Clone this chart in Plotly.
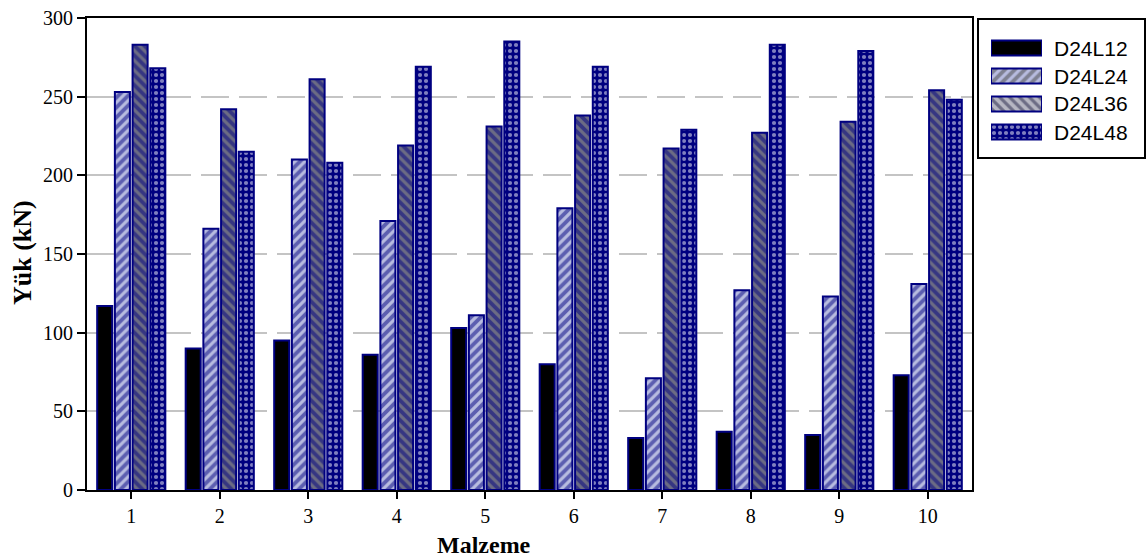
import plotly.graph_objects as go

categories = ["1", "2", "3", "4", "5", "6", "7", "8", "9", "10"]
series_names = ["D24L12", "D24L24", "D24L36", "D24L48"]
d24l12 = [117, 90, 95, 86, 103, 80, 33, 37, 35, 73]
d24l24 = [253, 166, 210, 171, 111, 179, 71, 127, 123, 131]
d24l36 = [283, 242, 261, 219, 231, 238, 217, 227, 234, 254]
d24l48 = [268, 215, 208, 269, 285, 269, 229, 283, 279, 248]
y_ticks = [0, 50, 100, 150, 200, 250, 300]

navy = "#000080"
fills = ["#000000", "#b8bce0", "#6c6c84", "#000080"]
shapes = ["", "/", "\\", "."]
fgcols = [navy, navy, navy, "#ffffff"]
psizes = [6, 7, 7, 6]
psolid = [0.3, 0.55, 0.55, 0.38]

W, H = 1148, 558
ML, MR, MT, MB = 87, 3, 18, 68
PW = W - ML - MR
PH = H - MT - MB


def px(x):
    return (x - ML) / PW


def py(y):
    return (H - MB - y) / PH


fig = go.Figure()
for i, (name, vals) in enumerate(zip(series_names, [d24l12, d24l24, d24l36, d24l48])):
    fig.add_trace(go.Bar(
        x=categories, y=vals, name=name, showlegend=False,
        marker=dict(color=fills[i],
                    pattern=dict(shape=shapes[i], fgcolor=fgcols[i], bgcolor=fills[i],
                                 size=psizes[i], solidity=psolid[i], fillmode="overlay"),
                    line=dict(color=navy, width=2)),
    ))

# legend swatches drawn as bars on a small helper axis
fig.add_trace(go.Bar(
    x=[1, 1, 1, 1], y=[0, 1, 2, 3], orientation="h", width=0.54,
    xaxis="x2", yaxis="y2", showlegend=False, hoverinfo="skip",
    marker=dict(color=fills,
                pattern=dict(shape=shapes, fgcolor=fgcols, bgcolor=fills,
                             size=psizes, solidity=psolid, fillmode="overlay"),
                line=dict(color=navy, width=2)),
))

row_y = [48, 76, 104, 132]
annotations = []
for name, ry in zip(series_names, row_y):
    annotations.append(dict(text=name, x=px(1052), y=py(ry), xref="paper", yref="paper",
                            xanchor="left", yanchor="middle", showarrow=False,
                            font=dict(family="Liberation Sans", size=21, color="black")))
annotations.append(dict(text="<b>Malzeme</b>", x=px(484), y=py(545), xref="paper", yref="paper",
                        xanchor="center", yanchor="middle", showarrow=False,
                        font=dict(family="Liberation Serif", size=24, color="black")))
annotations.append(dict(text="<b>Yük (kN)</b>", x=px(22), y=py(253), xref="paper", yref="paper",
                        xanchor="center", yanchor="middle", showarrow=False, textangle=-90,
                        font=dict(family="Liberation Serif", size=26, color="black")))

fig.update_layout(
    width=W, height=H,
    margin=dict(l=ML, r=MR, t=MT, b=MB),
    paper_bgcolor="white", plot_bgcolor="white",
    barmode="group", bargap=0.2, bargroupgap=0.15,
    font=dict(family="Liberation Serif", size=20, color="black"),
    showlegend=False,
    annotations=annotations,
    shapes=[dict(type="rect", xref="paper", yref="paper",
                 x0=px(978), x1=px(1145), y0=py(19), y1=py(158),
                 line=dict(color="black", width=2), fillcolor="rgba(0,0,0,0)")],
    xaxis=dict(
        domain=[0, px(972)], automargin=False,
        showline=True, linecolor="black", linewidth=2, mirror=True,
        ticks="outside", ticklen=7, tickwidth=2, tickcolor="black",
        showgrid=False, range=[-0.5, 9.5],
    ),
    yaxis=dict(
        automargin=False,
        range=[0, 300], tickvals=y_ticks,
        showline=True, linecolor="black", linewidth=2, mirror=True,
        ticks="outside", ticklen=8, tickwidth=2, tickcolor="black",
        showgrid=True, gridcolor="#c4c4c4", gridwidth=2, griddash="28px,10px",
        zeroline=False,
    ),
    xaxis2=dict(domain=[px(991), px(1042)], anchor="y2", range=[0, 1],
                visible=False, fixedrange=True),
    yaxis2=dict(domain=[py(146), py(34)], anchor="x2", range=[3.5, -0.5],
                visible=False, fixedrange=True),
)

fig.write_html("out.html")
